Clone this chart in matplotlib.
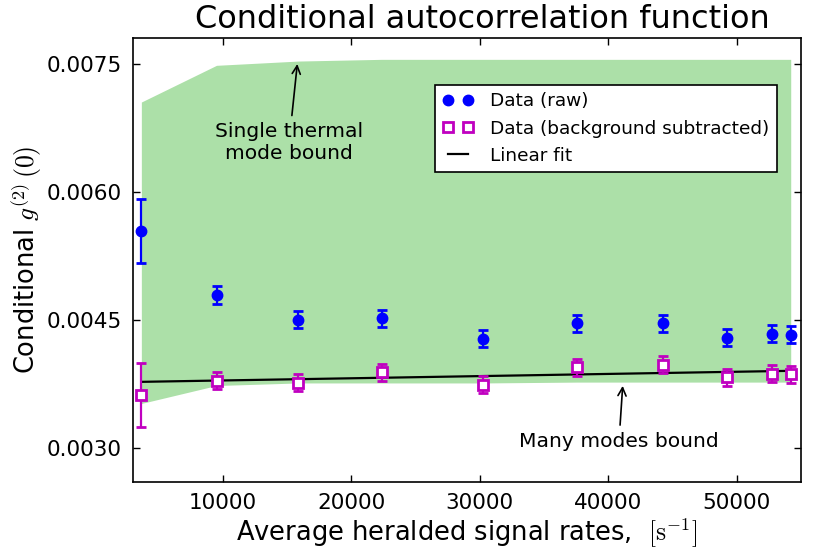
import matplotlib
matplotlib.use("Agg")
import matplotlib.pyplot as plt
from matplotlib.lines import Line2D
import numpy as np

# ---- data ----
rates = [3650, 9500, 15880, 22350, 30270, 37590, 44280, 49210, 52720, 54200]
g2_raw = [0.005541, 0.004791, 0.004499, 0.004518, 0.004280, 0.004460, 0.004460, 0.004292, 0.004335, 0.004323]
g2_raw_err = [0.000375, 0.00011, 0.00010, 0.00010, 0.00010, 0.00010, 0.00010, 0.00010, 0.00010, 0.00010]
g2_bg = [0.003621, 0.003785, 0.003765, 0.003886, 0.003738, 0.003945, 0.003972, 0.003828, 0.003867, 0.003863]
g2_bg_err = [0.000375, 0.00010, 0.00010, 0.00010, 0.00010, 0.00010, 0.00010, 0.00010, 0.00010, 0.00010]
bound_upper = [0.00705, 0.00748, 0.00753, 0.00755, 0.00755, 0.00755, 0.00755, 0.00755, 0.00755, 0.00755]
bound_lower = [0.00352, 0.00373, 0.00376, 0.00376, 0.00376, 0.00377, 0.00377, 0.00377, 0.00377, 0.00377]
fit_x = [3650, 54200]
fit_y = [0.003773, 0.003902]
y_ticks = [0.0030, 0.0045, 0.0060, 0.0075]
x_ticks = [10000, 20000, 30000, 40000, 50000]

plt.rcParams['mathtext.fontset'] = 'cm'
plt.rcParams['font.family'] = ['DejaVu Sans']

BLUE = 'blue'
MAG = '#c000c0'

fig = plt.figure(figsize=(8.3, 5.52), dpi=100)
ax = fig.add_axes([133/830, 1-482/552, (801-133)/830, (482-38)/552])

ax.fill_between(rates, bound_lower, bound_upper, color='#ace0a8', lw=0, zorder=1)

ax.errorbar(rates, g2_raw, yerr=g2_raw_err, fmt='o', color=BLUE, mec=BLUE,
            ms=7.5, elinewidth=1.6, capsize=3.5, capthick=2, zorder=3)
ax.errorbar(rates, g2_bg, yerr=g2_bg_err, fmt='s', color=MAG, mec=MAG, mfc='white',
            mew=2, ms=6.5, elinewidth=1.6, capsize=3.5, capthick=2, zorder=3)
ax.plot(fit_x, fit_y, color='black', lw=1.6, zorder=2)

ax.set_xlim(3000, 55000)
ax.set_ylim(0.0026, 0.0078)
ax.set_xticks(x_ticks)
ax.set_yticks(y_ticks)
ax.set_yticklabels(['%.4f' % v for v in y_ticks])
ax.tick_params(direction='in', top=True, right=True, length=5, width=1, labelsize=15.5, pad=8)
for s in ax.spines.values():
    s.set_linewidth(1.2)

ax.annotate('Single thermal\nmode bound', xy=(15790, 0.007496), xytext=(15144, 0.006571),
            ha='center', va='center', fontsize=14.6,
            arrowprops=dict(arrowstyle='->', color='black', lw=1.2, shrinkA=3, shrinkB=0))
ax.annotate('Many modes bound', xy=(41120, 0.003726), xytext=(40830, 0.003074),
            ha='center', va='center', fontsize=14.6,
            arrowprops=dict(arrowstyle='->', color='black', lw=1.2, shrinkA=3, shrinkB=0))

handles = [
    Line2D([], [], ls='none', marker='o', color=BLUE, mec=BLUE, ms=7.5),
    Line2D([], [], ls='none', marker='s', color=MAG, mec=MAG, mfc='white', mew=2, ms=6.5),
    Line2D([], [], color='black', lw=1.6),
]
labels = ['Data (raw)', 'Data (background subtracted)', 'Linear fit']
leg = ax.legend(handles, labels, loc='upper right', bbox_to_anchor=(0.964, 0.894), numpoints=2,
                fontsize=13.3, fancybox=False, framealpha=1, borderaxespad=0,
                handlelength=1.7, handletextpad=0.9, labelspacing=0.5, borderpad=0.4)
leg.get_frame().set_edgecolor('black')
leg.get_frame().set_linewidth(1.2)

ax.set_title('Conditional autocorrelation function', fontsize=23, pad=7, x=0.523)
ax.set_xlabel(r'Average heralded signal rates,  $[\mathrm{s}^{-1}]$', fontsize=18.5, labelpad=3)
ax.set_ylabel(r'Conditional $g^{(2)}\,(0)$', fontsize=18.5, labelpad=2)

fig.savefig('out.png', dpi=100, facecolor='white')
